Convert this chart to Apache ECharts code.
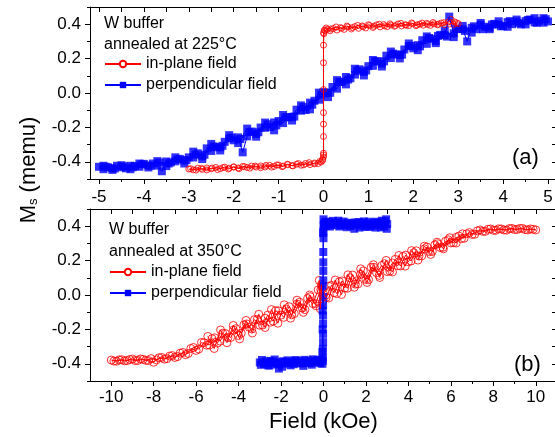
<!DOCTYPE html>
<html>
<head>
<meta charset="utf-8">
<script src="https://cdn.jsdelivr.net/npm/echarts@6/dist/echarts.min.js"></script>
<style>
html, body { margin: 0; padding: 0; background: #fff; }
#main { width: 555px; height: 437px; }
</style>
</head>
<body>
<div id="main"></div>
<script>
// 刻度
var aMajorX = [-5, -4, -3, -2, -1, 0, 1, 2, 3, 4, 5];
var aMinorX = [-4.5, -3.5, -2.5, -1.5, -0.5, 0.5, 1.5, 2.5, 3.5, 4.5];
var bMajorX = [-10, -8, -6, -4, -2, 0, 2, 4, 6, 8, 10];
var bMinorX = [-9, -7, -5, -3, -1, 1, 3, 5, 7, 9];
var yMajor = [-0.4, -0.2, 0, 0.2, 0.4];
var yMinor = [-0.5, -0.3, -0.1, 0.1, 0.3, 0.5];

// (a) 225°C, in-plane field (loop)
var aInPlane = [
    [-3.00,-0.442],[-2.90,-0.447],[-2.80,-0.437],[-2.70,-0.444],[-2.60,-0.436],[-2.50,-0.441],[-2.40,-0.433],[-2.30,-0.440],[-2.20,-0.431],[-2.10,-0.437],
    [-2.00,-0.429],[-1.90,-0.436],[-1.80,-0.427],[-1.70,-0.433],[-1.60,-0.425],[-1.50,-0.431],[-1.40,-0.424],[-1.30,-0.430],[-1.20,-0.421],[-1.10,-0.427],
    [-1.00,-0.419],[-0.90,-0.425],[-0.80,-0.417],[-0.70,-0.422],[-0.60,-0.414],[-0.50,-0.420],[-0.40,-0.410],[-0.30,-0.416],[-0.20,-0.407],[-0.12,-0.410],
    [-0.05,-0.401],[-0.02,-0.392],[0.00,-0.372],[0.00,-0.350],[0.00,-0.253],[0.00,-0.181],[0.00,-0.114],[0.00,0.176],[0.00,0.278],[0.01,0.345],[0.03,0.362],
    [0.08,0.370],[0.15,0.362],[0.22,0.375],[0.30,0.366],[0.38,0.380],[0.46,0.370],[0.54,0.384],[0.62,0.372],[0.70,0.386],[0.78,0.376],
    [0.86,0.390],[0.94,0.378],[1.02,0.392],[1.10,0.381],[1.18,0.396],[1.26,0.384],[1.34,0.398],[1.42,0.386],[1.50,0.395],[1.58,0.388],
    [1.66,0.401],[1.74,0.390],[1.82,0.397],[1.90,0.392],[1.98,0.403],[2.06,0.391],[2.14,0.400],[2.22,0.394],[2.30,0.405],[2.38,0.393],
    [2.46,0.402],[2.54,0.396],[2.62,0.407],[2.70,0.397],[2.78,0.412],[2.84,0.428],[2.90,0.399],[2.96,0.408],[3.00,0.404],
    [2.92,0.413],[2.80,0.401],[2.68,0.409],[2.56,0.400],[2.44,0.410],[2.32,0.398],[2.20,0.406],[2.08,0.396],[1.96,0.407],[1.84,0.394],
    [1.72,0.405],[1.60,0.392],[1.48,0.402],[1.36,0.390],[1.24,0.400],[1.12,0.388],[1.00,0.397],[0.88,0.385],[0.76,0.393],[0.64,0.380],
    [0.52,0.389],[0.40,0.376],[0.28,0.384],[0.16,0.372],[0.06,0.378],[0.02,0.366],
    [0.00,0.350],[0.00,0.020],[0.00,-0.360],[-0.02,-0.385],
    [-0.08,-0.398],[-0.20,-0.412],[-0.32,-0.405],[-0.44,-0.418],[-0.56,-0.410],[-0.68,-0.424],[-0.80,-0.414],[-0.92,-0.428],[-1.04,-0.418],[-1.16,-0.431],
    [-1.28,-0.421],[-1.40,-0.434],[-1.52,-0.425],[-1.64,-0.437],[-1.76,-0.428],[-1.88,-0.440],[-2.00,-0.431],[-2.12,-0.442],[-2.24,-0.434],[-2.36,-0.445],
    [-2.48,-0.436],[-2.60,-0.447],[-2.72,-0.438],[-2.84,-0.448],[-2.96,-0.440]
];

// (a) 225°C, perpendicular field (three sweeps)
var aPerp = [
    [-5.0,-0.429],[-4.9,-0.443],[-4.8,-0.432],[-4.7,-0.438],[-4.6,-0.423],[-4.5,-0.432],[-4.4,-0.438],[-4.3,-0.423],[-4.2,-0.424],[-4.1,-0.429],
    [-4.0,-0.412],[-3.9,-0.421],[-3.8,-0.410],[-3.7,-0.422],[-3.6,-0.455],[-3.5,-0.398],[-3.4,-0.404],[-3.3,-0.397],[-3.2,-0.383],[-3.1,-0.393],
    [-3.0,-0.374],[-2.9,-0.375],[-2.8,-0.351],[-2.7,-0.368],[-2.6,-0.322],[-2.5,-0.337],[-2.4,-0.315],[-2.3,-0.316],[-2.2,-0.284],[-2.1,-0.264],
    [-2.0,-0.275],[-1.9,-0.258],[-1.8,-0.345],[-1.7,-0.252],[-1.6,-0.224],[-1.5,-0.238],[-1.4,-0.201],[-1.3,-0.202],[-1.2,-0.198],[-1.1,-0.171],
    [-1.0,-0.163],[-0.9,-0.175],[-0.8,-0.141],[-0.7,-0.139],[-0.6,-0.097],[-0.5,-0.103],[-0.4,-0.099],[-0.3,-0.056],[-0.2,-0.045],[-0.1,-0.039],
    [0.0,0.005],[0.1,0.002],[0.2,0.035],[0.3,0.025],[0.4,0.065],[0.5,0.093],[0.6,0.086],[0.7,0.107],[0.8,0.138],[0.9,0.123],
    [1.0,0.156],[1.1,0.158],[1.2,0.185],[1.3,0.170],[1.4,0.217],[1.5,0.203],[1.6,0.224],[1.7,0.222],[1.8,0.253],[1.9,0.272],
    [2.0,0.260],[2.1,0.278],[2.2,0.307],[2.3,0.286],[2.4,0.315],[2.5,0.302],[2.6,0.338],[2.7,0.336],[2.8,0.444],[2.9,0.347],
    [3.0,0.373],[3.1,0.371],[3.2,0.300],[3.3,0.379],[3.4,0.371],[3.5,0.397],[3.6,0.385],[3.7,0.380],[3.8,0.402],[3.9,0.398],
    [4.0,0.389],[4.1,0.412],[4.2,0.400],[4.3,0.416],[4.4,0.399],[4.5,0.418],[4.6,0.427],[4.7,0.411],[4.8,0.420],[4.9,0.435],[5.0,0.416],
    [4.95,0.429],[4.75,0.408],[4.55,0.425],[4.35,0.406],[4.15,0.418],[3.95,0.388],[3.75,0.398],[3.55,0.371],[3.35,0.388],[3.15,0.361],
    [2.95,0.373],[2.75,0.328],[2.55,0.332],[2.35,0.320],[2.15,0.271],[1.95,0.274],[1.75,0.223],[1.55,0.229],[1.35,0.184],[1.15,0.184],
    [0.95,0.131],[0.75,0.129],[0.55,0.078],[0.35,0.065],[0.15,0.001],[-0.05,-0.009],[-0.25,-0.068],[-0.45,-0.082],[-0.65,-0.137],[-0.85,-0.141],
    [-1.05,-0.188],[-1.25,-0.182],[-1.45,-0.228],[-1.65,-0.227],[-1.85,-0.268],[-2.05,-0.259],[-2.25,-0.307],[-2.45,-0.310],[-2.65,-0.359],[-2.85,-0.359],
    [-3.05,-0.390],[-3.25,-0.387],[-3.45,-0.410],[-3.65,-0.405],[-3.85,-0.424],[-4.05,-0.415],[-4.25,-0.432],[-4.45,-0.426],[-4.65,-0.439],[-4.85,-0.429],
    [-4.9,-0.423],[-4.7,-0.447],[-4.5,-0.420],[-4.3,-0.443],[-4.1,-0.410],[-3.9,-0.433],[-3.7,-0.396],[-3.5,-0.425],[-3.3,-0.374],[-3.1,-0.410],
    [-2.9,-0.341],[-2.7,-0.384],[-2.5,-0.296],[-2.3,-0.334],[-2.1,-0.245],[-1.9,-0.291],[-1.7,-0.207],[-1.5,-0.254],[-1.3,-0.172],[-1.1,-0.217],
    [-0.9,-0.128],[-0.7,-0.160],[-0.5,-0.072],[-0.3,-0.095],[-0.1,0.002],[0.1,-0.024],[0.3,0.075],[0.5,0.050],[0.7,0.141],[0.9,0.102],
    [1.1,0.192],[1.3,0.154],[1.5,0.241],[1.7,0.201],[1.9,0.288],[2.1,0.249],[2.3,0.329],[2.5,0.290],[2.7,0.364],[2.9,0.325],
    [3.1,0.390],[3.3,0.351],[3.5,0.407],[3.7,0.371],[3.9,0.417],[4.1,0.385],[4.3,0.427],[4.5,0.399],[4.7,0.435],[4.9,0.409]
];

// (b) 350°C, in-plane field (three sweeps, '-' breaks the line between them)
var bInPlane = [
    [-10.00,-0.378],[-9.75,-0.385],[-9.50,-0.376],[-9.25,-0.381],[-9.00,-0.372],[-8.75,-0.381],[-8.50,-0.374],[-8.25,-0.381],[-8.00,-0.391],[-7.75,-0.365],
    [-7.50,-0.373],[-7.25,-0.355],[-7.00,-0.363],[-6.75,-0.338],[-6.50,-0.347],[-6.25,-0.311],[-6.00,-0.322],[-5.75,-0.276],[-5.50,-0.292],[-5.25,-0.254],
    [-5.00,-0.280],[-4.75,-0.222],[-4.50,-0.247],[-4.25,-0.204],[-4.00,-0.236],[-3.75,-0.174],[-3.50,-0.188],[-3.25,-0.143],[-3.00,-0.176],[-2.75,-0.135],
    [-2.50,-0.158],[-2.25,-0.091],[-2.00,-0.117],[-1.75,-0.081],[-1.50,-0.115],[-1.25,-0.052],[-1.00,-0.076],[-0.75,-0.020],[-0.50,-0.050],[-0.25,0.030],
    [-0.20,0.085],[-0.15,-0.080],[-0.10,0.060],[-0.05,-0.040],
    [0.00,0.005],[0.25,0.051],[0.50,0.013],[0.75,0.077],[1.00,0.040],[1.25,0.100],[1.50,0.063],[1.75,0.120],[2.00,0.090],[2.25,0.161],
    [2.50,0.129],[2.75,0.172],[3.00,0.136],[3.25,0.186],[3.50,0.170],[3.75,0.224],[4.00,0.193],[4.25,0.246],[4.50,0.227],[4.75,0.268],
    [5.00,0.252],[5.25,0.292],[5.50,0.276],[5.75,0.313],[6.00,0.303],[6.25,0.335],[6.50,0.328],[6.75,0.356],[7.00,0.352],[7.25,0.373],
    [7.50,0.370],[7.75,0.382],[8.00,0.376],[8.25,0.385],[8.50,0.378],[8.75,0.386],[9.00,0.380],[9.25,0.387],[9.50,0.380],[9.75,0.384],[10.00,0.378],
    [9.875,0.382],[9.625,0.378],[9.375,0.387],[9.125,0.381],[8.875,0.387],[8.625,0.377],[8.375,0.384],[8.125,0.376],[7.875,0.384],[7.625,0.370],
    [7.375,0.378],[7.125,0.353],[6.875,0.363],[6.625,0.330],[6.375,0.343],[6.125,0.304],[5.875,0.321],[5.625,0.277],[5.375,0.298],[5.125,0.253],
    [4.875,0.279],[4.625,0.227],[4.375,0.257],[4.125,0.198],[3.875,0.232],[3.625,0.169],[3.375,0.207],[3.125,0.139],[2.875,0.182],[2.625,0.114],
    [2.375,0.161],[2.125,0.089],[1.875,0.140],[1.625,0.065],[1.375,0.116],[1.125,0.039],[0.875,0.082],[0.625,0.008],[0.375,0.056],[0.125,-0.014],
    [-0.125,0.031],[-0.375,-0.050],[-0.625,-0.010],[-0.875,-0.085],[-1.125,-0.042],[-1.375,-0.108],[-1.625,-0.068],[-1.875,-0.130],[-2.125,-0.092],[-2.375,-0.152],
    [-2.625,-0.117],[-2.875,-0.175],[-3.125,-0.143],[-3.375,-0.198],[-3.625,-0.168],[-3.875,-0.222],[-4.125,-0.196],[-4.375,-0.247],[-4.625,-0.224],[-4.875,-0.268],
    [-5.125,-0.249],[-5.375,-0.291],[-5.625,-0.277],[-5.875,-0.314],[-6.125,-0.305],[-6.375,-0.340],[-6.625,-0.334],[-6.875,-0.358],[-7.125,-0.352],[-7.375,-0.370],
    [-7.625,-0.363],[-7.875,-0.377],[-8.125,-0.370],[-8.375,-0.380],[-8.625,-0.372],[-8.875,-0.381],[-9.125,-0.375],[-9.375,-0.383],[-9.625,-0.377],[-9.875,-0.384],
    ['-','-'],
    [-5.45,-0.241],[-5.15,-0.311],[-4.85,-0.203],[-4.55,-0.277],[-4.25,-0.177],[-3.95,-0.255],[-3.65,-0.148],[-3.35,-0.221],[-3.05,-0.112],[-2.75,-0.189],
    [-2.45,-0.085],[-2.15,-0.164],[-1.85,-0.057],[-1.55,-0.135],[-1.25,-0.030],[-0.95,-0.101],[-0.65,0.000],[-0.35,-0.063],[0.25,-0.017],[0.55,0.087],
    [0.85,0.003],[1.15,0.117],[1.45,0.045],[1.75,0.152],[2.05,0.073],[2.35,0.176],[2.65,0.102],[2.95,0.201],[3.25,0.134],[3.55,0.230],
    [3.85,0.168],[4.15,0.258],[4.45,0.203],[4.75,0.284],[5.05,0.236],[5.35,0.307],[5.65,0.268],[5.95,0.333],[6.25,0.302],[6.55,0.356]
];

// (b) 350°C, perpendicular field (loop)
var bPerp = [
    [-3.00,-0.392],[-2.90,-0.378],[-2.80,-0.401],[-2.70,-0.386],[-2.60,-0.409],[-2.50,-0.383],[-2.40,-0.397],[-2.30,-0.375],[-2.20,-0.404],[-2.10,-0.428],
    [-2.00,-0.390],[-1.90,-0.385],[-1.80,-0.399],[-1.70,-0.380],[-1.60,-0.395],[-1.50,-0.388],[-1.40,-0.402],[-1.30,-0.379],[-1.20,-0.396],[-1.10,-0.384],
    [-1.00,-0.398],[-0.90,-0.377],[-0.80,-0.393],[-0.70,-0.381],[-0.60,-0.396],[-0.50,-0.374],[-0.40,-0.389],[-0.30,-0.378],[-0.20,-0.392],[-0.10,-0.375],
    [-0.03,-0.383],[-0.03,-0.361],[-0.03,-0.313],[-0.02,-0.274],[-0.02,-0.226],[-0.02,-0.167],[-0.02,-0.119],[-0.02,-0.060],[-0.01,-0.012],[-0.01,0.085],
    [-0.01,0.140],[-0.01,0.190],[-0.01,0.250],[0.00,0.330],[0.00,0.370],[0.00,0.400],
    [0.05,0.418],[0.15,0.402],[0.25,0.425],[0.35,0.410],[0.45,0.431],[0.55,0.405],[0.65,0.421],[0.75,0.398],[0.85,0.415],[0.95,0.427],
    [1.05,0.408],[1.15,0.420],[1.25,0.401],[1.35,0.417],[1.45,0.385],[1.55,0.412],[1.65,0.424],[1.75,0.404],[1.85,0.419],[1.95,0.397],
    [2.05,0.414],[2.15,0.426],[2.25,0.400],[2.35,0.418],[2.45,0.392],[2.55,0.420],[2.65,0.405],[2.75,0.432],[2.85,0.398],[2.95,0.440],[3.00,0.412],
    [2.98,0.385],[2.90,0.428],[2.70,0.393],[2.50,0.426],[2.30,0.409],[2.10,0.396],[1.90,0.428],[1.70,0.392],[1.50,0.422],[1.30,0.410],
    [1.10,0.394],[0.90,0.405],[0.70,0.432],[0.50,0.417],[0.30,0.398],[0.10,0.426],[0.02,0.410],
    [0.00,0.440],[-0.02,0.360],[-0.03,0.050],[-0.04,-0.090],[-0.04,-0.200],[-0.05,-0.330],[-0.05,-0.400],
    [-0.15,-0.397],[-0.35,-0.384],[-0.55,-0.405],[-0.75,-0.389],[-0.95,-0.412],[-1.15,-0.393],[-1.35,-0.381],[-1.55,-0.409],[-1.75,-0.392],[-1.95,-0.417],
    [-2.15,-0.398],[-2.35,-0.387],[-2.55,-0.410],[-2.75,-0.395],[-2.95,-0.406]
];

var RED = '#ff0000';
var BLUE = '#0000ff';
var FONT = 'Liberation Sans';

// 底部/左侧主刻度轴
var mainAxis = function (grid, pos, min, max, major, fmt, margin) {
    return {
        type: 'value', gridIndex: grid, position: pos, min: min, max: max,
        splitLine: { show: false },
        axisLine: { show: true, onZero: false, lineStyle: { color: '#000', width: 1 } },
        axisTick: { show: true, inside: false, length: 5, customValues: major, lineStyle: { color: '#000' } },
        axisLabel: {
            show: true, customValues: major, margin: margin, formatter: fmt,
            color: '#000', fontSize: 17, fontFamily: FONT
        }
    };
};

// 次刻度 / 对边刻度（无标签）
var tickAxis = function (grid, pos, min, max, ticks, len, inside, line) {
    return {
        type: 'value', gridIndex: grid, position: pos, min: min, max: max,
        splitLine: { show: false },
        axisLine: { show: line, onZero: false, lineStyle: { color: '#000', width: 1 } },
        axisTick: { show: true, inside: inside, length: len, customValues: ticks, lineStyle: { color: '#000' } },
        axisLabel: { show: false }
    };
};

// 连线（不画点，图例用）
var lineSeries = function (name, xi, yi, data, symbol, color) {
    return {
        name: name, type: 'line', xAxisIndex: xi, yAxisIndex: yi, data: data,
        symbol: symbol, showSymbol: false, silent: true, connectNulls: false,
        itemStyle: { color: color }, lineStyle: { color: color, width: 1 }
    };
};

// 数据点
var dotSeries = function (name, xi, yi, data, symbol, size, style) {
    return {
        name: name, type: 'scatter', xAxisIndex: xi, yAxisIndex: yi, data: data,
        symbol: symbol, symbolSize: size, silent: true, itemStyle: style
    };
};

var fmtX = function (v) { return String(Math.round(v)); };
var fmtY = function (v) { return v.toFixed(1); };

var xb = mainAxis(1, 'bottom', -11, 11, bMajorX, fmtX, 8);
xb.name = 'Field (kOe)';
xb.nameLocation = 'middle';
xb.nameGap = 30;
xb.nameTextStyle = { fontSize: 22, fontFamily: FONT, color: '#000' };

var legendText = { fontSize: 16, lineHeight: 16, fontFamily: FONT, color: '#000' };
var legendNames = ['in-plane field', 'perpendicular field'];
var openCircle = { color: 'rgba(255,255,255,0)', borderColor: RED, borderWidth: 1 };
var solidSquare = { color: BLUE };
var noteFont = '16px "Liberation Sans"';

var option = {
    animation: false,
    backgroundColor: '#fff',
    grid: [
        { left: 90, top: 7, width: 467, height: 172, containLabel: false, outerBoundsMode: 'none' },
        { left: 90, top: 209, width: 467, height: 172, containLabel: false, outerBoundsMode: 'none' }
    ],
    xAxis: [
        mainAxis(0, 'bottom', -5.2, 5.2, aMajorX, fmtX, 10),
        tickAxis(0, 'bottom', -5.2, 5.2, aMinorX, 3, false, false),
        tickAxis(0, 'top', -5.2, 5.2, aMajorX.concat(aMinorX), 5, true, true),
        xb,
        tickAxis(1, 'bottom', -11, 11, bMinorX, 3, false, false),
        tickAxis(1, 'top', -11, 11, bMajorX.concat(bMinorX), 5, true, true)
    ],
    yAxis: [
        mainAxis(0, 'left', -0.5, 0.5, yMajor, fmtY, 9),
        tickAxis(0, 'left', -0.5, 0.5, yMinor, 3, false, false),
        tickAxis(0, 'right', -0.5, 0.5, yMajor.concat(yMinor), 5, true, true),
        mainAxis(1, 'left', -0.5, 0.5, yMajor, fmtY, 9),
        tickAxis(1, 'left', -0.5, 0.5, yMinor, 3, false, false),
        tickAxis(1, 'right', -0.5, 0.5, yMajor.concat(yMinor), 5, true, true)
    ],
    legend: [
        {
            left: 104, top: 56, orient: 'vertical', selectedMode: false, padding: 0,
            itemWidth: 36, itemHeight: 8, itemGap: 5,
            data: legendNames, textStyle: legendText
        },
        {
            left: 109, top: 264, orient: 'vertical', selectedMode: false, padding: 0,
            itemWidth: 36, itemHeight: 8, itemGap: 5,
            data: legendNames, textStyle: legendText
        }
    ],
    series: [
        lineSeries('perpendicular field', 0, 0, aPerp, 'rect', BLUE),
        lineSeries('in-plane field', 0, 0, aInPlane, 'emptyCircle', RED),
        lineSeries('in-plane field', 3, 3, bInPlane, 'emptyCircle', RED),
        lineSeries('perpendicular field', 3, 3, bPerp, 'rect', BLUE),
        dotSeries('perpendicular field', 0, 0, aPerp, 'rect', 8, solidSquare),
        dotSeries('in-plane field', 0, 0, aInPlane, 'circle', 6, openCircle),
        dotSeries('in-plane field', 3, 3, bInPlane, 'circle', 8, openCircle),
        dotSeries('perpendicular field', 3, 3, bPerp, 'rect', 8, solidSquare)
    ],
    graphic: [
        { type: 'text', x: 104, y: 24, style: { text: 'W buffer', font: noteFont, fill: '#000', verticalAlign: 'middle' } },
        { type: 'text', x: 104, y: 45, style: { text: 'annealed at 225°C', font: noteFont, fill: '#000', verticalAlign: 'middle' } },
        { type: 'text', x: 109, y: 230, style: { text: 'W buffer', font: noteFont, fill: '#000', verticalAlign: 'middle' } },
        { type: 'text', x: 109, y: 252, style: { text: 'annealed at 350°C', font: noteFont, fill: '#000', verticalAlign: 'middle' } },
        { type: 'text', x: 512, y: 158, style: { text: '(a)', font: '22px "Liberation Sans"', fill: '#000', verticalAlign: 'middle' } },
        { type: 'text', x: 514, y: 365, style: { text: '(b)', font: '22px "Liberation Sans"', fill: '#000', verticalAlign: 'middle' } },
        {
            type: 'text', x: 27, y: 170, rotation: Math.PI / 2,
            style: {
                text: '{m|M}{s|s}{m| (memu)}',
                align: 'center', verticalAlign: 'middle', fill: '#000',
                rich: {
                    m: { fontSize: 22, fontFamily: FONT, lineHeight: 26, verticalAlign: 'bottom' },
                    s: { fontSize: 13, fontFamily: FONT, lineHeight: 10, verticalAlign: 'bottom' }
                }
            }
        }
    ]
};

var my_chart = echarts.init(document.getElementById('main'), null, { renderer: 'canvas' });
my_chart.setOption(option);
</script>
</body>
</html>
